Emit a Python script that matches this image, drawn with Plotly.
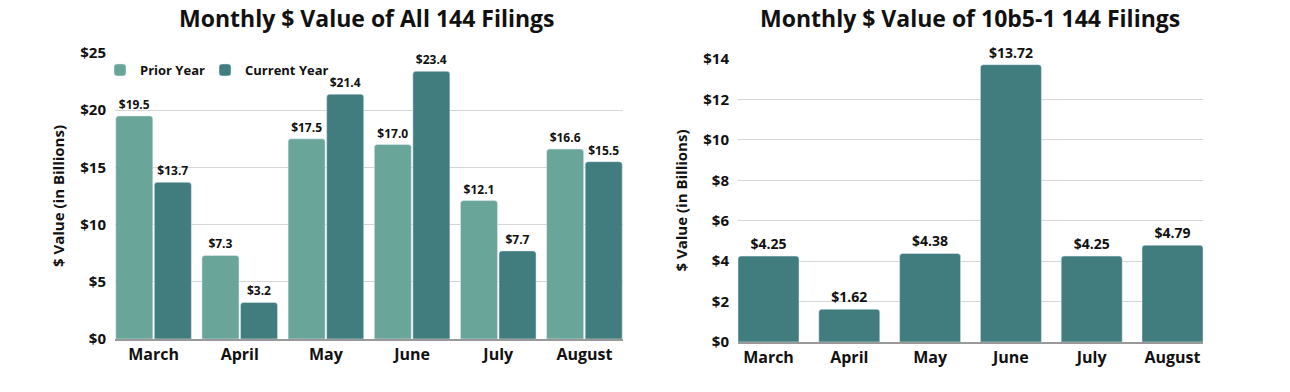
import plotly.graph_objects as go

months = ["March", "April", "May", "June", "July", "August"]
prior_year = [19.5, 7.3, 17.5, 17.0, 12.1, 16.6]
current_year = [13.7, 3.2, 21.4, 23.4, 7.7, 15.5]
tenb5 = [4.25, 1.62, 4.38, 13.72, 4.25, 4.79]

left_ticks = [0, 5, 10, 15, 20, 25]
right_ticks = [0, 2, 4, 6, 8, 10, 12, 14]

LIGHT = "#6aa59a"
DARK = "#417d7f"
FONT = "Open Sans"
W, H = 1290, 392

LGAP = 0.105   # gap between groups (fraction of category)
RW = 0.755     # bar width in right chart (fraction of category)

fig = go.Figure()
fig.add_trace(go.Bar(
    x=months, y=prior_year, name="Prior Year", marker_color=LIGHT,
    text=[f"${v:.1f}" for v in prior_year], textposition="outside",
    textfont=dict(family=FONT, size=12, color="#111", weight="bold"),
    cliponaxis=False, xaxis="x", yaxis="y", legend="legend"))
fig.add_trace(go.Bar(
    x=months, y=current_year, name="Current Year", marker_color=DARK,
    text=[f"${v:.1f}" for v in current_year], textposition="outside",
    textfont=dict(family=FONT, size=12, color="#111", weight="bold"),
    cliponaxis=False, xaxis="x", yaxis="y", legend="legend2"))
fig.add_trace(go.Bar(
    x=months, y=tenb5, name="10b5-1", marker_color=DARK, showlegend=False,
    text=[f"${v:.2f}" for v in tenb5], textposition="outside",
    textfont=dict(family=FONT, size=14, color="#111", weight="bold"),
    cliponaxis=False, xaxis="x2", yaxis="y2", width=RW))

tickfont = dict(family=FONT, size=15, color="#111", weight="bold")
catfont = dict(family=FONT, size=16, color="#111", weight="bold")
titlefont = dict(family=FONT, size=15, color="#111", weight="bold")
legfont = dict(family=FONT, size=13, color="#111", weight="bold")

n = len(months)
fig.update_layout(
    width=W, height=H, margin=dict(l=0, r=0, t=0, b=0, autoexpand=False),
    plot_bgcolor="white", paper_bgcolor="white",
    barmode="group", bargap=LGAP, bargroupgap=0.04, barcornerradius=3,
    showlegend=True,
    legend=dict(orientation="h", x=100 / W, y=1 - 70 / H, xanchor="left", yanchor="middle",
                font=legfont, bgcolor="rgba(0,0,0,0)"),
    legend2=dict(orientation="h", x=205 / W, y=1 - 70 / H, xanchor="left", yanchor="middle",
                 font=legfont, bgcolor="rgba(0,0,0,0)"),
    xaxis=dict(domain=[115 / W, 623 / W], anchor="y", tickfont=catfont, automargin=False,
               range=[-0.5 + LGAP / 2, n - 0.5 - LGAP / 2],
               showline=True, linecolor="#999", linewidth=1.5, ticks=""),
    yaxis=dict(domain=[1 - 339 / H, 1 - 53 / H], anchor="x", range=[0, 25], automargin=False,
               tickvals=left_ticks, ticktext=[f"${v}" for v in left_ticks],
               tickfont=tickfont, gridcolor="#d6d6d6", zeroline=False, ticklabelstandoff=8,
               title=dict(text="$ Value (in Billions)", font=titlefont, standoff=12)),
    xaxis2=dict(domain=[738 / W, 1203 / W], anchor="y2", tickfont=catfont, automargin=False,
                range=[-RW / 2, n - 1 + RW / 2],
                showline=True, linecolor="#999", linewidth=1.5, ticks=""),
    yaxis2=dict(domain=[1 - 342 / H, 1 - 59 / H], anchor="x2", range=[0, 14], automargin=False,
                tickvals=right_ticks, ticktext=[f"${v}" for v in right_ticks],
                tickfont=tickfont, gridcolor="#d6d6d6", zeroline=False, ticklabelstandoff=8,
                title=dict(text="$ Value (in Billions)", font=titlefont, standoff=12)),
    annotations=[
        dict(text="Monthly $ Value of All 144 Filings", x=367 / W, y=1 - 18 / H,
             xref="paper", yref="paper", showarrow=False, xanchor="center", yanchor="middle",
             font=dict(family=FONT, size=23, color="#111", weight="bold")),
        dict(text="Monthly $ Value of 10b5-1 144 Filings", x=970 / W, y=1 - 18 / H,
             xref="paper", yref="paper", showarrow=False, xanchor="center", yanchor="middle",
             font=dict(family=FONT, size=23, color="#111", weight="bold")),
    ],
)

fig.write_html("out.html", config={"displayModeBar": False},
               post_script="document.body.style.margin='0';")
